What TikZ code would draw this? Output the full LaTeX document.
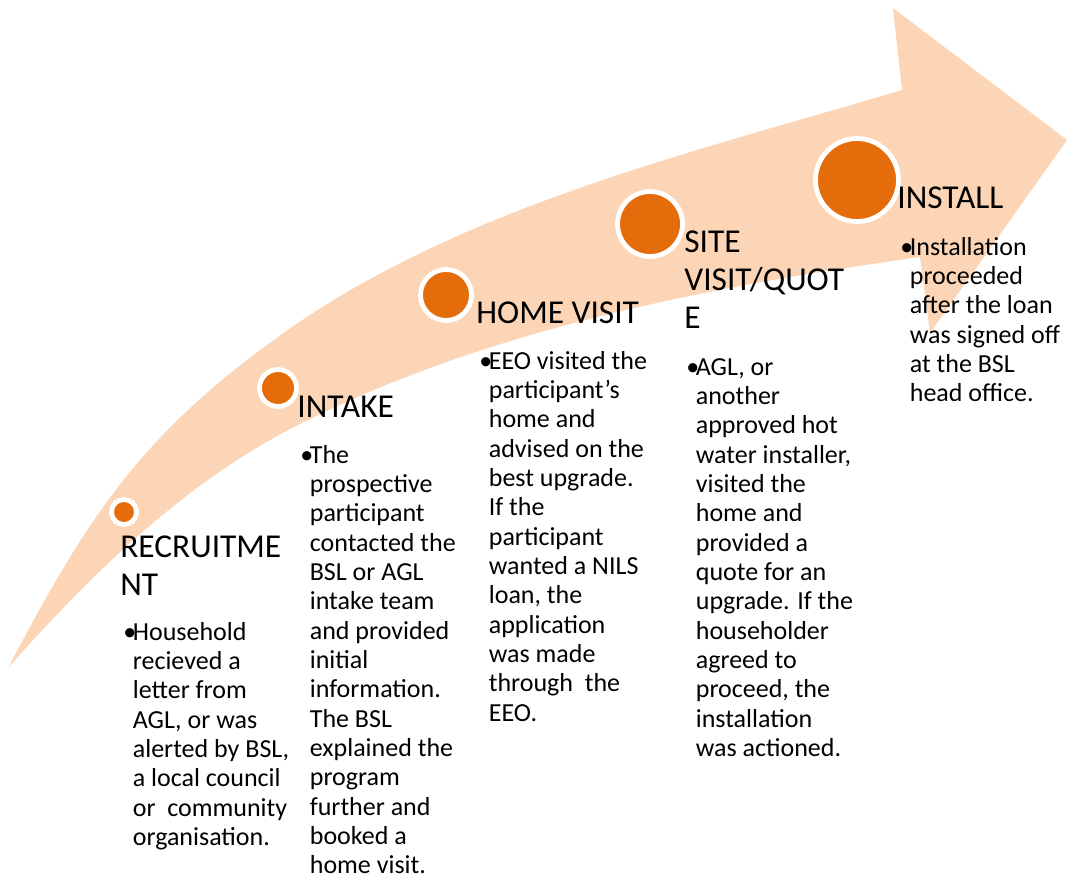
\documentclass[tikz,border=0pt]{standalone}
\usepackage{fontspec}
\setmainfont{Carlito}
\usepackage{tikz}
\pgfdeclarelayer{background}
\pgfsetlayers{background,main}

\definecolor{arrowpeach}{HTML}{FBD5B5}
\definecolor{dotorange}{HTML}{E46C0A}

\newcommand{\stepitem}[1]{\makebox[0.19cm][l]{\textbullet}\begin{tabular}[t]{@{}l@{}}#1\end{tabular}}

\begin{document}
\begin{tikzpicture}[x=0.02cm, y=-0.02cm,
				stepdot/.style={circle, draw=white, line width=0.096cm, fill=dotorange, inner sep=0pt},
				steptitle/.style={anchor=base west, inner sep=0pt, align=left, font=\fontsize{19}{21.6}\selectfont},
				stepbody/.style={anchor=base west, inner sep=0pt, font=\fontsize{14.8}{16.7}\selectfont},
				]
				\useasboundingbox (0,0) rectangle (1072,877);
				%Dots
				\node[stepdot, minimum size=0.5cm]    (d1) 	at 	(124,512)       {};
				\node[stepdot, minimum size=0.74cm]   (d2) 	at 	(278,388)       {};
				\node[stepdot, minimum size=1.02cm]   (d3) 	at 	(446,295)       {};
				\node[stepdot, minimum size=1.3cm]    (d4) 	at 	(650,224)       {};
				\node[stepdot, minimum size=1.66cm]   (d5) 	at 	(857,180)       {};

				%Titles (base = last line)
				\node[steptitle]      (t1) 	at 	(120,595)       {RECRUITME\\NT};
				\node[steptitle]      (t2) 	at 	(297,417)       {INTAKE};
				\node[steptitle]      (t3) 	at 	(476,323)       {HOME VISIT};
				\node[steptitle]      (t4) 	at 	(684,328)       {SITE\\VISIT/QUOT\\E};
				\node[steptitle]      (t5) 	at 	(897,208)       {INSTALL};

				%Texts
				\node[stepbody]       (b1) 	at 	(123,640)       {\stepitem{Household\\recieved a\\letter from\\AGL, or was\\alerted by BSL,\\a local council\\or\ \ community\\organisation.}};
				\node[stepbody]       (b2) 	at 	(300,463)       {\stepitem{The\\prospective\\participant\\contacted the\\BSL or AGL\\intake team\\and provided\\initial\\information.\\The BSL\\explained the\\program\\further and\\booked a\\home visit.}};
				\node[stepbody]       (b3) 	at 	(479,369)       {\stepitem{EEO visited the\\participant's\\home and\\advised on the\\best upgrade.\\If the\\participant\\wanted a NILS\\loan, the\\application\\was made\\through\ \ the\\EEO.}};
				\node[stepbody]       (b4) 	at 	(686,375)       {\stepitem{AGL, or\\another\\approved hot\\water installer,\\visited the\\home and\\provided a\\quote for an\\upgrade. If the\\householder\\agreed to\\proceed, the\\installation\\was actioned.}};
				\node[stepbody]       (b5) 	at 	(900,255)       {\stepitem{Installation\\proceeded\\after the loan\\was signed off\\at the BSL\\head office.}};

				\begin{pgfonlayer}{background}
				%Arrow
				\fill[arrowpeach] (8,668) .. controls (87,518) and (140,436) .. (278,337)
					.. controls (456,208) and (691,153) .. (902,90)
					-- (893,8) -- (1067,140) -- (930,333) -- (920,257)
					.. controls (708,287) and (491,328) .. (300,424)
					.. controls (186,481) and (92,573) .. (8,668) -- cycle;
				\end{pgfonlayer}
			\end{tikzpicture}
\end{document}
